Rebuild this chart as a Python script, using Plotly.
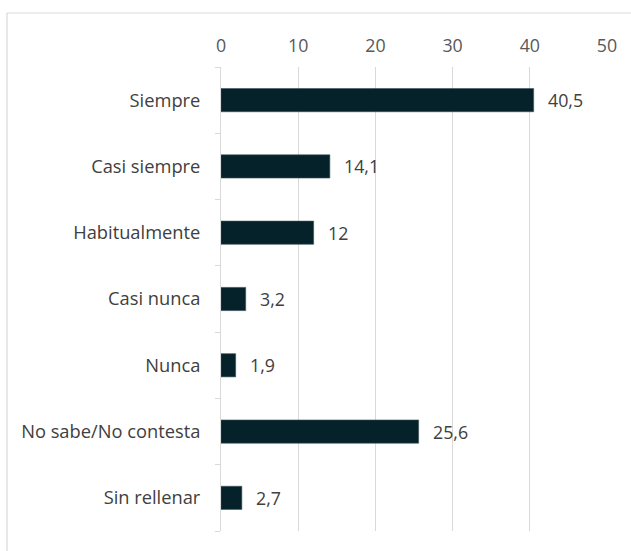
import plotly.graph_objects as go

# Survey responses (percent)
categories = ["Siempre", "Casi siempre", "Habitualmente", "Casi nunca",
              "Nunca", "No sabe/No contesta", "Sin rellenar"]
values = [40.5, 14.1, 12, 3.2, 1.9, 25.6, 2.7]
x_ticks = [0, 10, 20, 30, 40, 50]

labels = [f"{v:g}".replace(".", ",") for v in values]

W, H = 631, 551
ml, mr, mt, mb = 221, 24, 67, 20
pw, ph = W - ml - mr, H - mt - mb
FONT = "Open Sans"

fig = go.Figure(go.Bar(
    x=values,
    y=categories,
    orientation="h",
    marker=dict(color="#05222a", line=dict(color="#3d5358", width=0.6)),
    width=0.35,
    hoverinfo="skip",
))

# Value labels to the right of each bar
for cat, v, lab in zip(categories, values, labels):
    fig.add_annotation(
        x=v, y=cat, text=lab, showarrow=False,
        xanchor="left", yanchor="middle", xshift=12,
        font=dict(family=FONT, size=17.8, color="#404040"),
    )

# Outer chart frame
fig.add_shape(
    type="rect", xref="paper", yref="paper",
    x0=(7 - ml) / pw, x1=(W + 10 - ml) / pw,
    y0=-(H + 10 - mt - ph) / ph, y1=1 + (mt - 13) / ph,
    line=dict(color="#d9d9d9", width=1.2), fillcolor="rgba(0,0,0,0)",
    layer="below",
)

fig.update_layout(
    width=W, height=H,
    margin=dict(l=ml, r=mr, t=mt, b=mb),
    paper_bgcolor="white",
    plot_bgcolor="white",
    showlegend=False,
    font=dict(family=FONT, size=18, color="#404040"),
    xaxis=dict(
        side="top",
        range=[0, 50],
        tickvals=x_ticks,
        ticktext=[str(t) for t in x_ticks],
        showgrid=True, gridcolor="#d9d9d9", gridwidth=1,
        zeroline=False, showline=False, ticks="",
        ticklabelstandoff=10,
        tickfont=dict(family=FONT, size=17.8, color="#595959"),
        fixedrange=True,
    ),
    yaxis=dict(
        categoryorder="array",
        categoryarray=categories[::-1],
        autorange=False,
        range=[-0.5, len(categories) - 0.5],
        showline=True, linecolor="#d9d9d9", linewidth=1,
        ticks="outside", tickson="boundaries", ticklen=5,
        tickcolor="#d9d9d9", ticklabelstandoff=16,
        tickfont=dict(family=FONT, size=18.3, color="#404040"),
        showgrid=False,
        fixedrange=True,
    ),
)

fig.write_html("out.html")
